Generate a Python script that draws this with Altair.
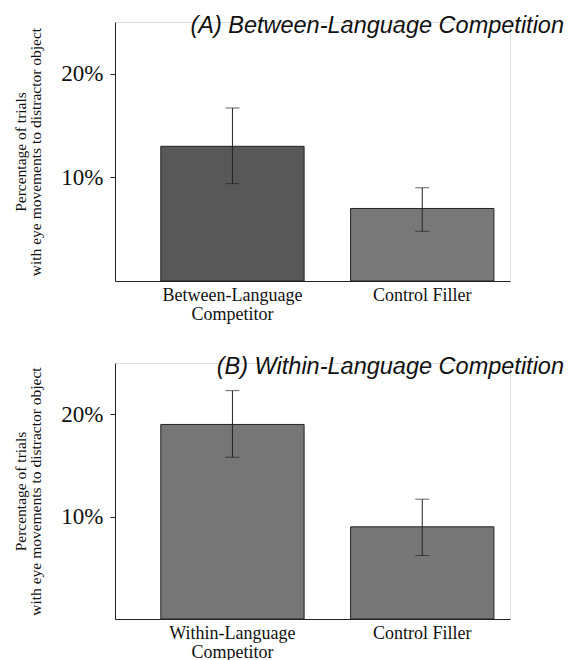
import altair as alt
import pandas as pd

# Panel A
a_title = "(A) Between-Language Competition"
a_cats = ["Between-Language\nCompetitor", "Control Filler"]
a_vals = [13.0, 7.0]
a_hi = [16.7, 9.0]
a_lo = [9.4, 4.8]
a_colors = ["#585858", "#787878"]

# Panel B
b_title = "(B) Within-Language Competition"
b_cats = ["Within-Language\nCompetitor", "Control Filler"]
b_vals = [19.0, 9.0]
b_hi = [22.3, 11.7]
b_lo = [15.8, 6.2]
b_colors = ["#767676", "#777777"]

y_title = ["Percentage of trials", "with eye movements to distractor object"]
y_ticks = [10, 20]

SERIF = "Liberation Serif"


def panel(title, cats, vals, hi, lo, colors, height):
    df = pd.DataFrame({"cat": cats, "val": vals, "hi": hi, "lo": lo, "color": colors})
    x = alt.X(
        "cat:N",
        sort=cats,
        title=None,
        scale=alt.Scale(paddingInner=0.245, paddingOuter=0.163, align=0.74),
        axis=alt.Axis(
            labelAngle=0,
            ticks=False,
            labelExpr="split(datum.label, '\\n')",
            labelFont=SERIF,
            labelFontSize=18,
            labelLineHeight=19,
            labelColor="#111",
            labelPadding=5,
            domainColor="#222",
        ),
    )
    y = alt.Y(
        "val:Q",
        scale=alt.Scale(domain=[0, 25], nice=False),
        title=y_title,
        axis=alt.Axis(
            values=y_ticks,
            labelExpr="datum.value + '%'",
            grid=False,
            labelFont=SERIF,
            labelFontSize=23,
            labelColor="#111",
            labelPadding=7,
            tickSize=5,
            tickColor="#222",
            domainColor="#222",
            titleFont=SERIF,
            titleFontSize=15.5,
            titleFontWeight="normal",
            titleLineHeight=15,
            titleColor="#111",
            titlePadding=17,
        ),
    )
    bars = alt.Chart(df).mark_bar(stroke="#222", strokeWidth=1).encode(
        x=x, y=y, color=alt.Color("color:N", scale=None)
    )
    rule = alt.Chart(df).mark_rule(color="#222", strokeWidth=1).encode(
        x=alt.X("cat:N", sort=cats), y="lo:Q", y2="hi:Q"
    )
    cap_hi = alt.Chart(df).mark_tick(color="#222", thickness=1, size=14).encode(
        x=alt.X("cat:N", sort=cats), y="hi:Q"
    )
    cap_lo = alt.Chart(df).mark_tick(color="#222", thickness=1, size=14).encode(
        x=alt.X("cat:N", sort=cats), y="lo:Q"
    )
    return alt.layer(bars, rule, cap_hi, cap_lo).properties(
        width=395,
        height=height,
        title=alt.TitleParams(
            text=title,
            anchor="end",
            font="Liberation Sans",
            fontStyle="italic",
            fontWeight="normal",
            fontSize=23.5,
            color="#111",
            offset=-15,
            dx=54,
        ),
    )


chart = alt.vconcat(
    panel(a_title, a_cats, a_vals, a_hi, a_lo, a_colors, 259),
    panel(b_title, b_cats, b_vals, b_hi, b_lo, b_colors, 256),
    spacing=30,
).properties(
    padding={"left": 5, "top": 5, "right": 0, "bottom": 5}
).configure_view(stroke=None).configure(background="white")

chart.save("out.html", embed_options={"renderer": "svg", "actions": False})
